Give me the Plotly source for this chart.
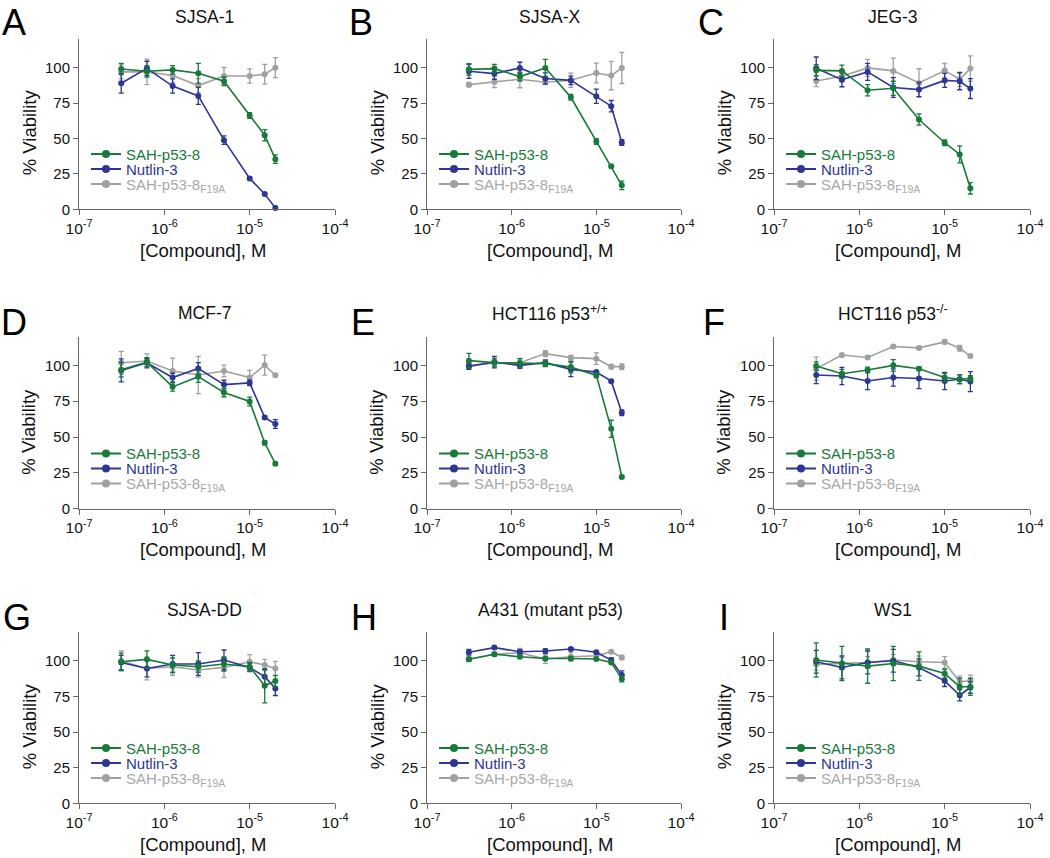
import plotly.graph_objects as go

# ---------------- data ----------------
conc = [0.3125e-6, 0.625e-6, 1.25e-6, 2.5e-6, 5e-6, 10e-6, 15e-6, 20e-6]

panel_letters = ["A", "B", "C", "D", "E", "F", "G", "H", "I"]
panel_titles = ["SJSA-1", "SJSA-X", "JEG-3", "MCF-7", "HCT116 p53<sup>+/+</sup>",
                "HCT116 p53<sup>-/-</sup>", "SJSA-DD", "A431 (mutant p53)", "WS1"]
series_names = ["SAH-p53-8", "Nutlin-3", "SAH-p53-8<sub>F19A</sub>"]

x_tickvals = [1e-7, 1e-6, 1e-5, 1e-4]
x_ticktext = ["10<sup>-7</sup>", "10<sup>-6</sup>", "10<sup>-5</sup>", "10<sup>-4</sup>"]
y_tickvals = [0, 25, 50, 75, 100]

# A  SJSA-1
A_sah = [99, 97.4, 98.4, 96, 90.4, 66.2, 52.3, 35.4]
A_sah_err = [4, 4, 3, 7, 3, 2, 4, 3]
A_nut = [89, 99.5, 87, 80, 48.8, 21.8, 10.8, 1]
A_nut_err = [7, 5, 5, 6, 3, 1, 1, 1]
A_f19 = [97, 97, 94.4, 87.3, 94.1, 94.1, 95.3, 100]
A_f19_err = [5, 9, 5, 5, 6, 5, 7, 7]
# B  SJSA-X
B_sah = [98.8, 99.3, 93.7, 99.8, 79.1, 47.9, 30.3, 16.9]
B_sah_err = [4, 3, 3, 6, 2, 2, 1, 3]
B_nut = [97.4, 95.8, 99.8, 92.3, 91, 79.8, 72.8, 47.2]
B_nut_err = [5, 4, 4, 4, 3, 5, 4, 2]
B_f19 = [88, 89.9, 91.8, 89.7, 91.1, 96.2, 94.4, 99.8]
B_f19_err = [1.5, 4, 6, 1.5, 5, 7, 10, 11]
# C  JEG-3
C_sah = [98.1, 97.7, 84, 85.4, 63.4, 47, 38.7, 14.8]
C_sah_err = [4, 4, 4, 5, 4, 2, 6, 4]
C_nut = [99.5, 91.5, 97, 86, 84.5, 91, 90.4, 85.2]
C_nut_err = [8, 5, 6, 7, 5, 5, 6, 7]
C_f19 = [90.6, 93.9, 99.8, 97.7, 89.2, 97.9, 91.8, 99.3]
C_f19_err = [4, 4, 6, 9, 10, 5, 5, 9]
# D  MCF-7
D_sah = [97, 102.3, 85, 92.1, 81.1, 74.8, 46, 31.4]
D_sah_err = [5, 3, 3, 4, 3, 3, 1.5, 1]
D_nut = [96.5, 101.8, 91.5, 97.9, 86.6, 87.8, 63.7, 59.1]
D_nut_err = [8, 3, 3, 4, 3, 2, 1, 3]
D_f19 = [101.8, 103, 96.1, 93.3, 96.1, 91.5, 100.2, 93.1]
D_f19_err = [8, 5, 9, 13, 4, 5, 7, 1]
# E  HCT116 p53+/+
E_sah = [103.3, 101.9, 101.6, 101.2, 98.8, 93, 55.7, 22.2]
E_sah_err = [5, 3, 3, 2, 4, 1.5, 6, 1]
E_nut = [99.3, 102.3, 100, 101.9, 97.2, 95.3, 89, 67]
E_nut_err = [2, 4, 2, 2, 5, 1, 1, 2]
E_f19 = [99.8, 101.6, 101.9, 108.2, 105.4, 104.7, 99.1, 99.1]
E_f19_err = [2, 2, 3, 2, 1.5, 4, 1.5, 2]
# F  HCT116 p53-/-
F_sah = [99.5, 94.2, 96.8, 100, 97.7, 91.5, 90.3, 90.8]
F_sah_err = [3, 3, 2, 4, 1, 3, 3, 2]
F_nut = [93.3, 92.6, 89.1, 91.5, 90.8, 89.1, 90.3, 88.7]
F_nut_err = [6, 6, 6, 6, 7, 6, 3, 7]
F_f19 = [97.7, 107.2, 105.5, 113.2, 112.2, 116.4, 112, 106.5]
F_f19_err = [8, 1, 1, 1, 1, 1.5, 2, 1]
# G  SJSA-DD
G_sah = [99.3, 100.9, 97, 95.8, 97.7, 95.8, 82.5, 85.7]
G_sah_err = [6, 6, 5, 4, 5, 3, 12, 4]
G_nut = [98.8, 94.6, 97.7, 97.7, 100.5, 95.3, 88.8, 80.6]
G_nut_err = [5, 6, 6, 8, 7, 3, 5, 5]
G_f19 = [99.8, 94.6, 95.8, 93.5, 95.3, 99.3, 97, 94.6]
G_f19_err = [7, 8, 6, 5, 7, 5, 4, 5]
# H  A431 (mutant p53)
H_sah = [101, 104.5, 102.8, 101.6, 101.6, 101.2, 98.8, 87.1]
H_sah_err = [1.5, 1, 1, 1, 1, 1, 1, 2]
H_nut = [105.9, 109.2, 106.3, 106.8, 108.2, 105.9, 100.5, 89.9]
H_nut_err = [2, 1, 1.5, 1.5, 1, 1, 1.5, 3]
H_f19 = [101, 104.5, 105.6, 101.2, 102.8, 103.5, 106.3, 102.3]
H_f19_err = [1, 1.5, 3, 3, 3, 3, 1, 1.5]
# I  WS1
I_sah = [100.5, 98.1, 96.2, 98.1, 96.2, 91, 81.7, 81.7]
I_sah_err = [12, 12, 12, 12, 10, 3, 6, 6]
I_nut = [99.3, 95.3, 98.8, 100, 95.3, 85.9, 75.8, 81.2]
I_nut_err = [8, 8, 8, 8, 6, 4, 4, 4]
I_f19 = [97.4, 98.1, 98.8, 100.5, 99.3, 98.8, 85.2, 85.9]
I_f19_err = [4, 4, 4, 4, 4, 4, 4, 4]

panels = [
    (A_sah, A_sah_err, A_nut, A_nut_err, A_f19, A_f19_err),
    (B_sah, B_sah_err, B_nut, B_nut_err, B_f19, B_f19_err),
    (C_sah, C_sah_err, C_nut, C_nut_err, C_f19, C_f19_err),
    (D_sah, D_sah_err, D_nut, D_nut_err, D_f19, D_f19_err),
    (E_sah, E_sah_err, E_nut, E_nut_err, E_f19, E_f19_err),
    (F_sah, F_sah_err, F_nut, F_nut_err, F_f19, F_f19_err),
    (G_sah, G_sah_err, G_nut, G_nut_err, G_f19, G_f19_err),
    (H_sah, H_sah_err, H_nut, H_nut_err, H_f19, H_f19_err),
    (I_sah, I_sah_err, I_nut, I_nut_err, I_f19, I_f19_err),
]

# ---------------- styling / layout ----------------
W, H = 1050, 858
FONT = "Liberation Sans, Arial, Helvetica, sans-serif"
colors = ["#17793a", "#2d3694", "#a0a0a0"]
text_colors = ["#17793a", "#2d3694", "#a8a8a8"]
AXC = "#666666"

col_px = [(79, 335), (427, 681), (774, 1030)]
row_px = [(39.3, 209.3), (336.7, 508.7), (632.2, 803.3)]  # (top, bottom=y0)
title_cx = [204, 550, 893]
title_cy = [17, 313, 610]
letter_cx = [14, 361, 711, 14, 363, 714, 17, 364, 724]
letter_top = [0, 300, 595]
legend_dy = [55, 40, 25]


def px(x):
    return x / W


def py(y):
    return 1 - y / H


fig = go.Figure()
layout = dict(width=W, height=H,
              margin=dict(l=0, r=0, t=0, b=0, autoexpand=False),
              paper_bgcolor="white", plot_bgcolor="white",
              font=dict(family=FONT, color="#111111"), showlegend=True)
annotations = []

for i, data in enumerate(panels):
    r, c = divmod(i, 3)
    ax = "" if i == 0 else str(i + 1)
    xa, ya = "x" + ax, "y" + ax
    x0, x1 = col_px[c]
    top, bot = row_px[r]
    layout["xaxis" + ax] = dict(
        domain=[px(x0), px(x1)], anchor=ya, type="log", range=[-7, -4],
        tickvals=x_tickvals, ticktext=x_ticktext, ticks="outside", ticklen=5,
        tickcolor=AXC, showline=True, linecolor=AXC, linewidth=1,
        showgrid=False, zeroline=False, automargin=False,
        tickfont=dict(size=15.5, color="#111"))
    layout["yaxis" + ax] = dict(
        domain=[py(bot), py(top)], anchor=xa, range=[0, 120],
        tickvals=y_tickvals, ticks="outside", ticklen=5, tickcolor=AXC,
        showline=True, linecolor=AXC, linewidth=1, showgrid=False,
        zeroline=False, automargin=False, tickfont=dict(size=15, color="#111"))

    # draw grey first, then blue, then green on top
    for k in [2, 1, 0]:
        vals, errs = data[2 * k], data[2 * k + 1]
        fig.add_trace(go.Scatter(
            x=conc, y=vals, mode="lines+markers", xaxis=xa, yaxis=ya,
            line=dict(color=colors[k], width=1.6),
            marker=dict(color=colors[k], size=6),
            error_y=dict(type="data", array=errs, color=colors[k],
                         thickness=1.3, width=2.5),
            showlegend=False, cliponaxis=False))

    # legend entries (one legend per entry for exact placement)
    for k in range(3):
        n = i * 3 + k + 1
        lid = "legend" if n == 1 else f"legend{n}"
        fig.add_trace(go.Scatter(
            x=[None], y=[None], mode="lines+markers", xaxis=xa, yaxis=ya,
            line=dict(color=colors[k], width=2),
            marker=dict(color=colors[k], size=8),
            name=f'<span style="color:{text_colors[k]}">{series_names[k]}</span>',
            legend=lid, showlegend=True))
        layout[lid] = dict(
            x=px(x0 + 7), y=py(bot - legend_dy[k]), xanchor="left",
            yanchor="middle", bgcolor="rgba(0,0,0,0)", borderwidth=0,
            font=dict(size=15, family=FONT), itemwidth=30)

    cx = (x0 + x1) / 2
    annotations.append(dict(text=panel_titles[i], x=px(title_cx[c]), y=py(title_cy[r]),
                            xref="paper", yref="paper", showarrow=False,
                            xanchor="center", yanchor="middle",
                            font=dict(size=17.5, family=FONT, color="#111")))
    annotations.append(dict(text=panel_letters[i], x=px(letter_cx[i]), y=py(letter_top[r]),
                            xref="paper", yref="paper", showarrow=False,
                            xanchor="center", yanchor="top",
                            font=dict(size=36, family=FONT, color="#000")))
    annotations.append(dict(text="% Viability", x=px(x0 - 50), y=py(bot - 77),
                            xref="paper", yref="paper", showarrow=False, textangle=-90,
                            xanchor="center", yanchor="middle",
                            font=dict(size=18.5, family=FONT, color="#111")))
    annotations.append(dict(text="[Compound], M", x=px(cx - 4), y=py(bot + 41),
                            xref="paper", yref="paper", showarrow=False,
                            xanchor="center", yanchor="middle",
                            font=dict(size=18.5, family=FONT, color="#111")))

layout["annotations"] = annotations
fig.update_layout(**layout)
fig.write_html("out.html", config={"displayModeBar": False},
               post_script="document.body.style.margin='0px';")
